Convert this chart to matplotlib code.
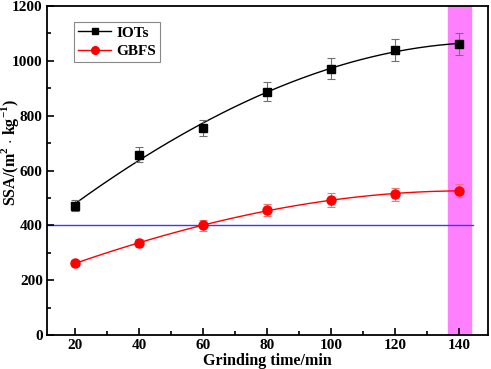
import numpy as np
import matplotlib.pyplot as plt
from matplotlib.ticker import MultipleLocator

plt.rcParams['font.family'] = ['Liberation Serif', 'DejaVu Serif']
plt.rcParams['font.weight'] = 'bold'
plt.rcParams['mathtext.fontset'] = 'custom'
plt.rcParams['mathtext.rm'] = 'Liberation Serif:bold'
plt.rcParams['mathtext.bf'] = 'Liberation Serif:bold'

# data
time = [20, 40, 60, 80, 100, 120, 140]
iots = [472, 658, 755, 887, 972, 1040, 1060]
iots_err = [20, 28, 30, 35, 38, 40, 40]
gbfs = [262, 335, 400, 455, 493, 513, 527]
gbfs_err = [12, 15, 20, 22, 25, 25, 25]
ref_level = 402


def smooth_curve(x, y, deg=3, n=200):
    # courbe lissee (ajustement polynomial)
    c = np.polyfit(x, y, deg)
    xs = np.linspace(min(x), max(x), n)
    return xs, np.polyval(c, xs)


fig = plt.figure(figsize=(4.91, 3.69), dpi=100)
ax = fig.add_axes([0.0957, 0.0921, 0.898, 0.8916])

ax.axvspan(136.6, 143.75, color='#ff80ff', zorder=0)
ax.plot([11.25, 144.4], [ref_level, ref_level], color='#3a3aff', lw=1.0, zorder=1)

xs, ys = smooth_curve(time, iots)
ax.plot(xs, ys, color='black', lw=1.0, zorder=2)
xs, ys = smooth_curve(time, gbfs)
ax.plot(xs, ys, color='red', lw=1.0, zorder=2)

ax.errorbar(time, iots, yerr=iots_err, fmt='none', ecolor='#707070', elinewidth=0.8, capsize=3, capthick=0.8, zorder=3)
ax.errorbar(time, gbfs, yerr=gbfs_err, fmt='none', ecolor='#ff7070', elinewidth=0.8, capsize=3, capthick=0.8, zorder=3)
ax.plot(time, iots, 's', color='black', ms=6, zorder=4)
ax.plot(time, gbfs, 'o', color='red', ms=6.5, zorder=4)

# entrees de legende
ax.plot([], [], 's-', color='black', ms=5, lw=1.0, label='IOTs')
ax.plot([], [], 'o-', color='red', ms=5.5, lw=1.0, label='GBFS')
leg = ax.legend(loc='upper left', bbox_to_anchor=(0.061, 0.951), borderaxespad=0,
                fancybox=False, edgecolor='#888888', framealpha=1, fontsize=11,
                handlelength=2.2, handletextpad=0.35, borderpad=0.25, labelspacing=0.3)
leg.get_frame().set_linewidth(0.8)

ax.set_xlim(11.25, 149.1)
ax.set_ylim(0, 1200)
ax.xaxis.set_major_locator(MultipleLocator(20))
ax.xaxis.set_minor_locator(MultipleLocator(10))
ax.yaxis.set_major_locator(MultipleLocator(200))
ax.yaxis.set_minor_locator(MultipleLocator(100))
ax.tick_params(which='both', direction='in', labelsize=11, width=1.2)
ax.tick_params(which='major', length=5, pad=3)
ax.tick_params(which='minor', length=3)
for s in ax.spines.values():
    s.set_linewidth(1.3)

ax.set_xlabel('Grinding time/min', fontsize=11.5, fontweight='bold', va='center')
ax.xaxis.set_label_coords(0.5, -0.078)
ax.set_ylabel(r'SSA/(m$^{2}$ $\cdot$ kg$^{-1}$)', fontsize=11.5, fontweight='bold', va='center', ha='center')
ax.yaxis.set_label_coords(-0.083, 0.556)

fig.savefig('out.png', dpi=100)
